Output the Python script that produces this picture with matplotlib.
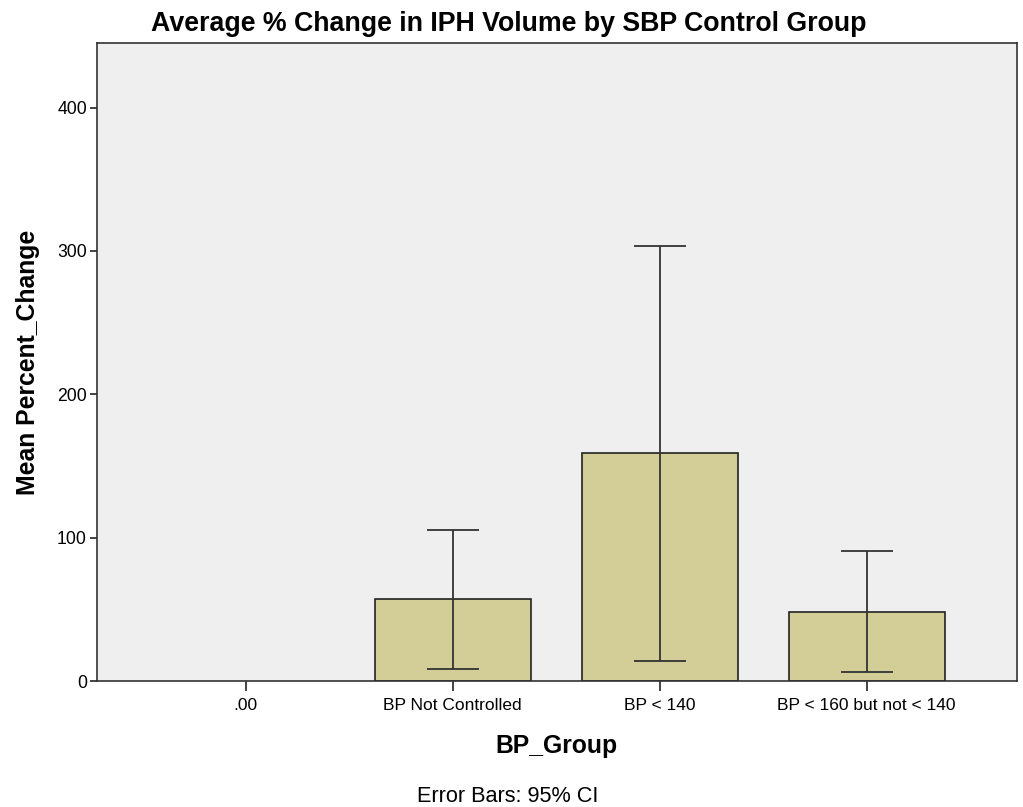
import matplotlib.pyplot as plt
import numpy as np

plt.rcParams['font.family'] = ['Liberation Sans', 'DejaVu Sans']

groups = ['.00', 'BP Not Controlled', 'BP < 140', 'BP < 160 but not < 140']
mean_change = [np.nan, 56.9, 158.7, 48.3]
ci_low = [np.nan, 8.2, 13.7, 6.1]
ci_high = [np.nan, 105.4, 303.3, 90.8]

x = np.arange(len(groups))
mean_arr = np.array(mean_change)
yerr = [mean_arr - np.array(ci_low), np.array(ci_high) - mean_arr]

fig = plt.figure(figsize=(10.23, 8.07), dpi=100)
ax = fig.add_axes([0.0945, 0.1561, 0.8993, 0.7906])
ax.set_facecolor('#efefef')

ax.bar(x, mean_arr, width=0.754, color='#d3ce97', edgecolor='#222222', linewidth=1.2, zorder=2)
ax.errorbar(x, mean_arr, yerr=yerr, fmt='none', ecolor='#333333', elinewidth=1.3,
            capsize=18.7, capthick=1.3, zorder=3)

ax.set_xlim(-0.72, 3.725)
ax.set_ylim(0, 445)
ax.set_yticks([0, 100, 200, 300, 400])
ax.set_xticks(x)
ax.set_xticklabels(groups, fontsize=12.5)
ax.tick_params(axis='y', labelsize=12.7, length=5, width=1.2, color='#222222', pad=2)
ax.tick_params(axis='x', length=7, width=1.2, color='#222222', pad=5)
for s in ax.spines.values():
    s.set_color('#333333')
    s.set_linewidth(1.2)

ax.set_ylabel('Mean Percent_Change', fontsize=17.8, fontweight='bold', labelpad=12)
ax.set_xlabel('BP_Group', fontsize=17.8, fontweight='bold', labelpad=15)
fig.text(0.497, 0.970, 'Average % Change in IPH Volume by SBP Control Group',
         ha='center', va='center', fontsize=19.3, fontweight='bold')
fig.text(0.496, 0.013, 'Error Bars: 95% CI', ha='center', va='center', fontsize=15.6)

fig.savefig('out.png', dpi=100)
